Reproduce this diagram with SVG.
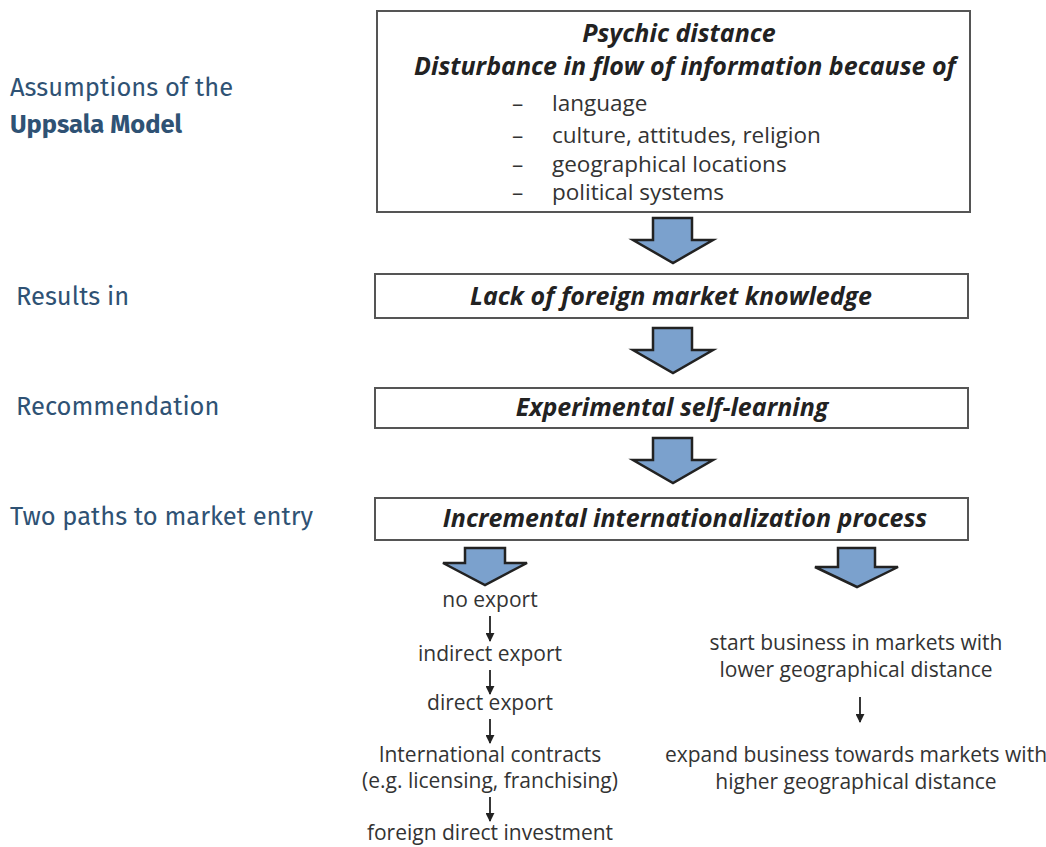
<svg xmlns="http://www.w3.org/2000/svg" width="1046" height="847" viewBox="0 0 1046 847">
<defs>
<style>
.lbl{font-family:"Fira Sans","Open Sans","Noto Sans",sans-serif;font-size:25.5px;fill:#2f5274}
.box{fill:#fff;stroke:#555;stroke-width:2}
.bt{font-family:"Open Sans","Noto Sans",sans-serif;font-size:25px;font-weight:bold;font-style:italic;fill:#222;text-anchor:middle}
.li{font-family:"Open Sans","Noto Sans",sans-serif;font-size:22.5px;fill:#333}
.st{font-family:"Open Sans","Noto Sans",sans-serif;font-size:21px;fill:#333;text-anchor:middle}
.ba{fill:#7ba1cd;stroke:#222;stroke-width:2.5;stroke-linejoin:miter}
.sa{stroke:#222;stroke-width:1.8;fill:none}
</style>
<marker id="ah" viewBox="0 0 10 10" refX="9" refY="5" markerWidth="9" markerHeight="9" orient="auto" markerUnits="userSpaceOnUse">
<path d="M0,0 L10,5 L0,10 z" fill="#222"/>
</marker>
</defs>
<rect width="1046" height="847" fill="#fff"/>

<g id="labels">
<text class="lbl" x="10" y="96">Assumptions of the</text>
<text class="lbl" x="10" y="133" style="font-weight:bold">Uppsala Model</text>
<text class="lbl" x="16" y="305">Results in</text>
<text class="lbl" x="16" y="415">Recommendation</text>
<text class="lbl" x="10" y="525">Two paths to market entry</text>
</g>

<g id="node-psychic">
<rect class="box" x="377" y="11" width="593" height="201"/>
<text class="bt" x="679" y="42">Psychic distance</text>
<text class="bt" x="685" y="75">Disturbance in flow of information because of</text>
<text class="li" x="512" y="111">–</text><text class="li" x="552" y="111">language</text>
<text class="li" x="512" y="143">–</text><text class="li" x="552" y="143">culture, attitudes, religion</text>
<text class="li" x="512" y="172">–</text><text class="li" x="552" y="172">geographical locations</text>
<text class="li" x="512" y="200">–</text><text class="li" x="552" y="200">political systems</text>
</g>

<g id="node-lack">
<rect class="box" x="375" y="274" width="593" height="44"/>
<text class="bt" x="671" y="305">Lack of foreign market knowledge</text>
</g>

<g id="node-experimental">
<rect class="box" x="375" y="388" width="593" height="40"/>
<text class="bt" x="672" y="416">Experimental self-learning</text>
</g>

<g id="node-incremental">
<rect class="box" x="375" y="498" width="593" height="42"/>
<text class="bt" x="685" y="527">Incremental internationalization process</text>
</g>

<g id="node-left-path">
<text class="st" x="490" y="607">no export</text>
<text class="st" x="490" y="661">indirect export</text>
<text class="st" x="490" y="710">direct export</text>
<text class="st" x="490" y="762">International contracts</text>
<text class="st" x="490" y="788">(e.g. licensing, franchising)</text>
<text class="st" x="490" y="840">foreign direct investment</text>
</g>

<g id="node-right-path">
<text class="st" x="856" y="650">start business in markets  with</text>
<text class="st" x="856" y="677">lower geographical distance</text>
<text class="st" x="856" y="762">expand business towards markets with</text>
<text class="st" x="856" y="789">higher geographical distance</text>
</g>

<g id="connectors">
<path class="ba" d="M653,218 L692,218 L692,240 L713,240 L673,263 L633,240 L653,240 Z"/>
<path class="ba" d="M653,328 L692,328 L692,350 L713,350 L673,373 L633,350 L653,350 Z"/>
<path class="ba" d="M653,438 L692,438 L692,460 L713,460 L673,483 L633,460 L653,460 Z"/>
<path class="ba" d="M465,548 L505,548 L505,563 L527,563 L485,585 L443,563 L465,563 Z"/>
<path class="ba" d="M838,548 L875,548 L875,567 L898,567 L857,587 L815,567 L838,567 Z"/>
<line class="sa" x1="490" y1="616" x2="490" y2="641" marker-end="url(#ah)"/>
<line class="sa" x1="490" y1="670" x2="490" y2="694" marker-end="url(#ah)"/>
<line class="sa" x1="490" y1="719" x2="490" y2="743" marker-end="url(#ah)"/>
<line class="sa" x1="490" y1="797" x2="490" y2="821" marker-end="url(#ah)"/>
<line class="sa" x1="860" y1="697" x2="860" y2="722" marker-end="url(#ah)"/>
</g>
</svg>
